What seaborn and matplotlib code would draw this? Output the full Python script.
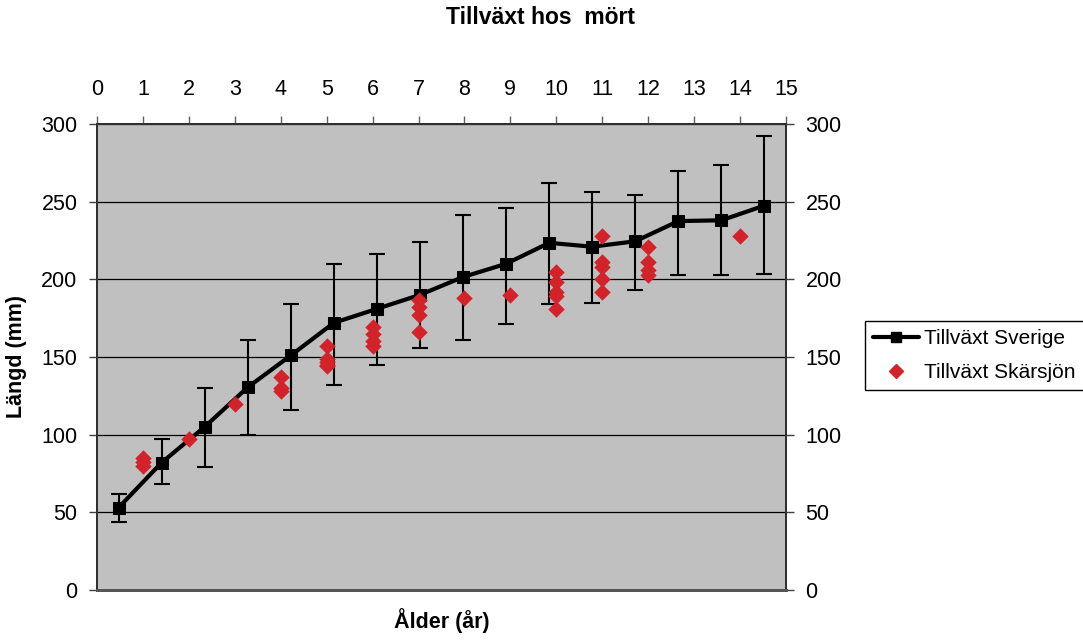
import numpy as np
import pandas as pd
import matplotlib
matplotlib.use("Agg")
import matplotlib.pyplot as plt
import seaborn as sns
from matplotlib.lines import Line2D

# ---- data -------------------------------------------------------------
title = "Tillväxt hos  mört"
xlabel = "Ålder (år)"
ylabel = "Längd (mm)"
series_sverige = "Tillväxt Sverige"
series_skarsjon = "Tillväxt Skärsjön"

# national growth curve: mean length per age class with min/max spread
sverige_age = list(range(1, 17))
sverige_mean = [53, 82, 105, 130.5, 151, 172, 181, 190, 201.5, 210, 223.5, 221, 224.5, 237.5, 238, 247.5]
sverige_high = [62, 97, 130, 161, 184, 210, 216, 224, 241.5, 246, 262, 256.5, 254.5, 270, 273.5, 292]
sverige_low = [44, 68, 79.5, 100, 116, 132, 145, 155.5, 161, 171, 184, 185, 193, 203, 202.5, 203.5]

# back-calculated lengths for individual fish from Skärsjön
skarsjon_age = [1, 1, 1,
                2,
                3,
                4, 4, 4,
                5, 5, 5, 5, 5,
                6, 6, 6, 6,
                7, 7, 7, 7,
                8,
                9,
                10, 10, 10, 10, 10,
                11, 11, 11, 11, 11,
                12, 12, 12, 12,
                14]
skarsjon_len = [80, 82.5, 85,
                97,
                120,
                137, 130, 128,
                157, 149, 147, 145, 144,
                169, 165, 160, 157,
                187, 182, 177, 166,
                188,
                190,
                205, 198, 192, 189, 181,
                228, 211, 208, 200, 192,
                221, 211, 206, 203,
                228]

x_ticks_top = list(range(0, 16))
y_ticks = list(range(0, 301, 50))

sverige = pd.DataFrame({"age": sverige_age, "mean": sverige_mean,
                        "high": sverige_high, "low": sverige_low})
# category axis: each age class sits in the middle of its slot
sverige["pos"] = sverige["age"] - 0.5
skarsjon = pd.DataFrame({"age": skarsjon_age, "length": skarsjon_len})

# ---- style ------------------------------------------------------------
sns.set_theme(style="white")
plt.rcParams["font.family"] = ["Liberation Sans", "DejaVu Sans"]
plt.rcParams["text.color"] = "black"
plt.rcParams["xtick.labelcolor"] = "black"
plt.rcParams["ytick.labelcolor"] = "black"
FS = 15.5
FS_LEG = 15
FS_TITLE = 16.5
red = "#D4222A"
plot_bg = "#C0C0C0"

W, H = 1083, 641
fig = plt.figure(figsize=(W / 100, H / 100), dpi=100)
L, R, T, B = 97, 786, 124, 590
ax = fig.add_axes([L / W, 1 - B / H, (R - L) / W, (B - T) / H])
ax.set_facecolor(plot_bg)

# national curve on the category axis
ax.errorbar(sverige["pos"], sverige["mean"],
            yerr=[sverige["mean"] - sverige["low"], sverige["high"] - sverige["mean"]],
            fmt="none", ecolor="black", elinewidth=1.5, capsize=6, capthick=1.5, zorder=3)
sns.lineplot(data=sverige, x="pos", y="mean", ax=ax, color="black", lw=3,
             marker="s", markersize=8.5, markeredgecolor="black", zorder=4)
ax.set_xlim(0, 16)
ax.set_ylim(0, 300)
ax.set_xticks([])
ax.set_xlabel("")
ax.set_ylabel("")
ax.set_yticks(y_ticks)
ax.set_yticklabels([str(v) for v in y_ticks], fontsize=FS)
ax.tick_params(axis="y", which="both", left=True, direction="out", length=6,
               width=1, color="#404040", labelcolor="black", pad=8)
ax.yaxis.grid(True, color="black", lw=0.9)
ax.xaxis.grid(False)
ax.set_axisbelow(True)

# individual fish on the secondary (top) numeric axis
ax_top = ax.twiny()
sns.scatterplot(data=skarsjon, x="age", y="length", ax=ax_top, color=red,
                marker="D", s=70, edgecolor=red, linewidth=0, zorder=5)
ax_top.set_xlim(0, 15)
ax_top.set_ylim(0, 300)
ax_top.set_xticks(x_ticks_top)
ax_top.set_xticklabels([str(v) for v in x_ticks_top], fontsize=FS)
ax_top.tick_params(axis="x", top=True, bottom=False, direction="out", length=6,
                   width=1, color="#606060", labelcolor="black", pad=11)
ax_top.set_xlabel("")
ax_top.set_ylabel("")

# mirrored value axis on the right
ax_right = ax.twinx()
ax_right.set_ylim(0, 300)
ax_right.set_yticks(y_ticks)
ax_right.set_yticklabels([str(v) for v in y_ticks], fontsize=FS)
ax_right.tick_params(axis="y", right=True, left=False, direction="out", length=6,
                     width=1, color="#404040", labelcolor="black", pad=8)

for a in (ax, ax_top, ax_right):
    for side, sp in a.spines.items():
        sp.set_color("#303030")
        sp.set_linewidth(1.2)
    a.spines["bottom"].set_color("#555555")
    a.spines["bottom"].set_linewidth(2)
ax.set_zorder(1)
ax_top.set_zorder(2)
ax_right.set_zorder(3)

# titles and axis captions
fig.text(540 / W, 1 - 18 / H, title, ha="center", va="center",
         fontsize=FS_TITLE, fontweight="bold", color="black")
fig.text((L + R) / 2 / W, 1 - 621 / H, xlabel, ha="center", va="center",
         fontsize=FS, fontweight="bold", color="black")
fig.text(17 / W, 1 - 356 / H, ylabel, ha="center", va="center",
         rotation=90, fontsize=FS, fontweight="bold", color="black")

handles = [Line2D([], [], color="black", lw=3, marker="s", markersize=7),
           Line2D([], [], color=red, lw=0, marker="D", markersize=7)]
leg = fig.legend(handles, [series_sverige, series_skarsjon],
                 loc="upper left", bbox_to_anchor=(865 / W, 1 - 321 / H),
                 borderaxespad=0, fontsize=FS_LEG, frameon=True, fancybox=False,
                 framealpha=1, edgecolor="black", handlelength=2.2,
                 handletextpad=0.25, labelspacing=0.7, borderpad=0.4)
leg.get_frame().set_linewidth(1.0)
for t in leg.get_texts():
    t.set_color("black")

fig.savefig("out.png", dpi=100)
